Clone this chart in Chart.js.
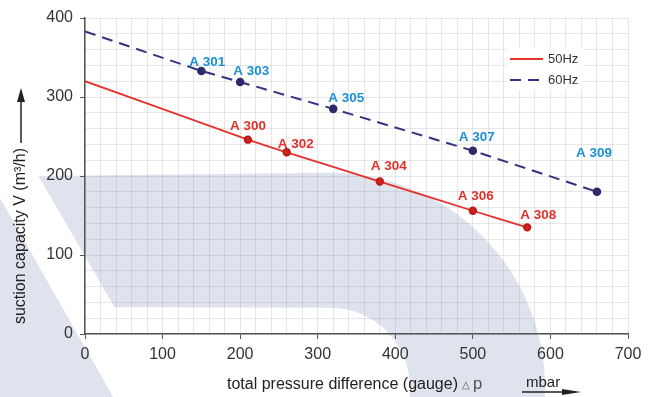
<!DOCTYPE html>
<html>
<head>
<meta charset="utf-8">
<script src="https://cdn.jsdelivr.net/npm/chart.js@4.4.0/dist/chart.umd.min.js"></script>
<style>
  html, body { margin: 0; padding: 0; background: #fff; }
  #wrap { width: 656px; height: 397px; }
</style>
</head>
<body>
<div id="wrap"><canvas id="pumpChart" width="656" height="397"></canvas></div>
<script>
// ===== Data =====
const seriesNames = ["50Hz", "60Hz"];

// 50 Hz curve
const pressure50 = [0, 210, 260, 380, 500, 570];
const flow50 = [320, 246, 230, 193, 156, 135];
const models50 = ["", "A 300", "A 302", "A 304", "A 306", "A 308"];

// 60 Hz curve
const pressure60 = [0, 150, 200, 320, 500, 660];
const flow60 = [383, 333, 319, 285, 232, 180];
const models60 = ["", "A 301", "A 303", "A 305", "A 307", "A 309"];

const xTickLabels = [0, 100, 200, 300, 400, 500, 600, 700];
const yTickLabels = [0, 100, 200, 300, 400];

// ===== Styles =====
const FONT = "'Liberation Sans', Arial, sans-serif";
const RED = "#e5322b";
const NAVY = "#363282";
const LABEL_RED = "#e2302a";
const LABEL_BLUE = "#1d8fd5";
const SHADE = "#dfe3ed";

// where each model label sits relative to its point (px)
const labelShift = {
  "A 300": [0, -13], "A 302": [9, -8], "A 304": [9, -15], "A 306": [3, -14], "A 308": [11, -12],
  "A 301": [6, -9], "A 303": [11, -11], "A 305": [13, -11], "A 307": [4, -13], "A 309": [-3, -39]
};

function toPoints(xs, ys) {
  return xs.map((x, i) => ({ x: x, y: ys[i] }));
}

// ===== Plugins =====
const watermark = {
  id: "watermark",
  beforeDraw(chart) {
    const c = chart.ctx;
    const xs = chart.scales.x, ys = chart.scales.y;
    const P = (x, y) => [xs.getPixelForValue(x), ys.getPixelForValue(y)];
    c.save();
    c.fillStyle = SHADE;

    // big band with arc
    const cx = xs.getPixelForValue(316), cy = ys.getPixelForValue(-68);
    const R = xs.getPixelForValue(316 + 277) - cx;
    const r = xs.getPixelForValue(316 + 103) - cx;
    c.beginPath();
    let p = P(-60, 200); c.moveTo(p[0], p[1]);
    c.lineTo(cx, cy - R);
    c.arc(cx, cy, R, -Math.PI / 2, 0.4, false);
    c.arc(cx, cy, r, 0.4, -Math.PI / 2, true);
    p = P(38, 34); c.lineTo(p[0], p[1]);
    c.closePath();
    c.fill();

    // lower-left wedge
    c.beginPath();
    p = P(-139, 223); c.moveTo(p[0], p[1]);
    p = P(80, -155); c.lineTo(p[0], p[1]);
    p = P(-300, -155); c.lineTo(p[0], p[1]);
    c.closePath();
    c.fill();
    c.restore();
  }
};

const modelLabels = {
  id: "modelLabels",
  afterDatasetsDraw(chart) {
    const c = chart.ctx;
    c.save();
    c.font = "bold 13.5px " + FONT;
    c.textAlign = "center";
    c.textBaseline = "middle";
    chart.data.datasets.forEach((ds, di) => {
      const meta = chart.getDatasetMeta(di);
      c.fillStyle = ds.labelColor;
      meta.data.forEach((el, i) => {
        const name = ds.models[i];
        if (!name) return;
        const s = labelShift[name] || [0, -12];
        c.fillText(name, el.x + s[0], el.y + s[1]);
      });
    });
    c.restore();
  }
};

const boxLegend = {
  id: "boxLegend",
  afterDatasetsDraw(chart) {
    const c = chart.ctx;
    const a = chart.chartArea;
    const left = a.right - 121, top = a.top + 29;
    c.save();
    c.fillStyle = "#fff";
    c.fillRect(left, top, 76, 43);
    c.lineWidth = 1.8;
    c.font = "13px " + FONT;
    c.textBaseline = "middle";
    c.fillStyle = "#333";
    chart.data.datasets.forEach((ds, i) => {
      const y = top + 12 + i * 21;
      c.strokeStyle = ds.borderColor;
      c.setLineDash(ds.borderDash || []);
      c.beginPath();
      c.moveTo(left + 3, y);
      c.lineTo(left + 36, y);
      c.stroke();
      c.fillText(ds.label, left + 41, y);
    });
    c.restore();
  }
};

const axisTitles = {
  id: "axisTitles",
  afterDraw(chart) {
    const c = chart.ctx;
    c.save();
    c.fillStyle = "#222";
    c.strokeStyle = "#222";

    // y title, rotated
    c.font = "16px " + FONT;
    c.translate(21, 236);
    c.rotate(-Math.PI / 2);
    c.textAlign = "center";
    c.textBaseline = "middle";
    c.fillText("suction capacity V (m\u00b3/h)", 0, 0);
    c.setTransform(1, 0, 0, 1, 0, 0);

    // y arrow
    c.lineWidth = 1.5;
    c.beginPath();
    c.moveTo(21, 143);
    c.lineTo(21, 98);
    c.stroke();
    c.beginPath();
    c.moveTo(21, 88);
    c.lineTo(25, 102);
    c.lineTo(17, 102);
    c.closePath();
    c.fill();

    // x title
    c.textAlign = "left";
    c.textBaseline = "alphabetic";
    c.font = "16px " + FONT;
    const t = "total pressure difference (gauge) ";
    c.fillText(t, 227, 389);
    const w = c.measureText(t).width;
    c.fillStyle = "#555";
    c.font = "10px " + FONT;
    c.fillText("\u25b3", 227 + w, 388);
    c.font = "17px 'Liberation Mono', monospace";
    c.fillText("p", 227 + w + 10, 389);

    // unit with arrow
    c.fillStyle = "#222";
    c.font = "15px " + FONT;
    c.fillText("mbar", 526, 387);
    c.lineWidth = 1.3;
    c.beginPath();
    c.moveTo(522, 392);
    c.lineTo(572, 392);
    c.stroke();
    c.beginPath();
    c.moveTo(581, 392);
    c.lineTo(562, 389);
    c.lineTo(562, 395);
    c.closePath();
    c.fill();
    c.restore();
  }
};

// ===== Chart =====
const ctx = document.getElementById("pumpChart").getContext("2d");

const gridColor = "rgba(120, 120, 135, 0.18)";

new Chart(ctx, {
  type: "line",
  data: {
    datasets: [
      {
        label: seriesNames[0],
        data: toPoints(pressure50, flow50),
        models: models50,
        labelColor: LABEL_RED,
        borderColor: RED,
        borderWidth: 1.8,
        pointBackgroundColor: "#d3231d",
        pointBorderColor: "#b81c17",
        pointRadius: c => models50[c.dataIndex] ? 3.3 : 0,
        tension: 0.1,
        fill: false
      },
      {
        label: seriesNames[1],
        data: toPoints(pressure60, flow60),
        models: models60,
        labelColor: LABEL_BLUE,
        borderColor: NAVY,
        borderWidth: 2,
        borderDash: [11, 7],
        pointBackgroundColor: "#2e2a6c",
        pointBorderColor: "#2e2a6c",
        pointRadius: c => models60[c.dataIndex] ? 3.3 : 0,
        tension: 0,
        fill: false
      }
    ]
  },
  options: {
    responsive: false,
    animation: false,
    layout: { padding: { left: 0, top: 18, right: 28, bottom: 0 } },
    plugins: {
      legend: { display: false },
      tooltip: { enabled: false }
    },
    scales: {
      x: {
        type: "linear",
        min: 0,
        max: 700,
        afterFit: s => { s.height = 63; },
        ticks: {
          stepSize: 20,
          autoSkip: false,
          maxRotation: 0,
          padding: 6,
          color: "#333",
          font: { size: 16, family: FONT },
          callback: v => xTickLabels.includes(v) ? String(v) : ""
        },
        grid: {
          color: gridColor,
          lineWidth: 1,
          tickLength: 5,
          tickColor: c => (c.tick && xTickLabels.includes(c.tick.value)) ? "#555" : "rgba(0,0,0,0)"
        },
        border: { color: "#555", width: 1.5 }
      },
      y: {
        type: "linear",
        min: 0,
        max: 400,
        afterFit: s => { s.width = 85; },
        ticks: {
          stepSize: 20,
          autoSkip: false,
          padding: 7,
          color: "#333",
          font: { size: 16, family: FONT },
          callback: v => yTickLabels.includes(v) ? String(v) : ""
        },
        grid: {
          color: gridColor,
          lineWidth: 1,
          tickLength: 5,
          tickColor: c => (c.tick && yTickLabels.includes(c.tick.value)) ? "#555" : "rgba(0,0,0,0)"
        },
        border: { color: "#555", width: 1.5 }
      }
    }
  },
  plugins: [watermark, modelLabels, boxLegend, axisTitles]
});
</script>
</body>
</html>
